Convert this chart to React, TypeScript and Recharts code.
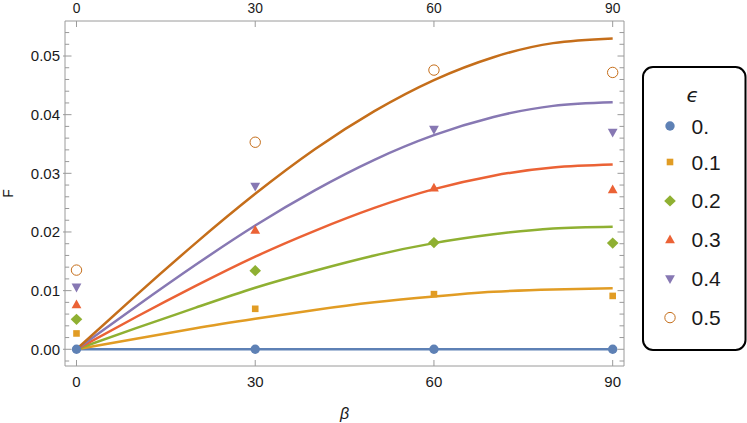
import React from 'react';
import { ComposedChart, Line, Scatter, XAxis, YAxis, Legend } from 'recharts';

// ---- data ----
const epsLabels = ['0.', '0.1', '0.2', '0.3', '0.4', '0.5'];
const seriesColors = ['#5E81B5', '#E19C24', '#8FB032', '#EB6235', '#8778B3', '#C56E1A'];
const markerKinds = ['circle', 'square', 'diamond', 'triangle', 'down', 'open'];

// fitted curves (every 10 degrees)
const curveBeta = [0, 10, 20, 30, 40, 50, 60, 70, 80, 90];
const curveEps00 = [0, 0, 0, 0, 0, 0, 0, 0, 0, 0];
const curveEps01 = [0, 0.0018, 0.0036, 0.0052, 0.0067, 0.008, 0.009, 0.0098, 0.0102, 0.0104];
const curveEps02 = [0, 0.0036, 0.0071, 0.0105, 0.0134, 0.016, 0.0181, 0.0196, 0.0206, 0.0209];
const curveEps03 = [0, 0.0055, 0.0108, 0.0158, 0.0202, 0.0241, 0.0273, 0.0296, 0.031, 0.0315];
const curveEps04 = [0, 0.0073, 0.0144, 0.0211, 0.0271, 0.0323, 0.0365, 0.0396, 0.0415, 0.0421];
const curveEps05 = [0, 0.0092, 0.0181, 0.0265, 0.0341, 0.0406, 0.0459, 0.0498, 0.0522, 0.053];

// measured points
const pointBeta = [0, 30, 60, 90];
const pointsEps00 = [0, 0, 0, 0];
const pointsEps01 = [0.0027, 0.0069, 0.0094, 0.0091];
const pointsEps02 = [0.0051, 0.0134, 0.0182, 0.0181];
const pointsEps03 = [0.0076, 0.0203, 0.0275, 0.0272];
const pointsEps04 = [0.0106, 0.0278, 0.0375, 0.037];
const pointsEps05 = [0.0135, 0.0353, 0.0476, 0.0472];

// axes
const xTicks = [0, 30, 60, 90];
const xTickLabels = ['0', '30', '60', '90'];
const yMajorTicks = [0, 0.01, 0.02, 0.03, 0.04, 0.05];
const yMajorLabels = ['0.00', '0.01', '0.02', '0.03', '0.04', '0.05'];
const yMinorTicks = [-0.002, 0.002, 0.004, 0.006, 0.008, 0.012, 0.014, 0.016, 0.018, 0.022, 0.024, 0.026, 0.028, 0.032, 0.034, 0.036, 0.038, 0.042, 0.044, 0.046, 0.048, 0.052, 0.054];
const xDomain = [-1.93, 91.9];
const yDomain = [-0.00285, 0.05597];

const curves = [curveEps00, curveEps01, curveEps02, curveEps03, curveEps04, curveEps05];
const points = [pointsEps00, pointsEps01, pointsEps02, pointsEps03, pointsEps04, pointsEps05];

const curveData = curves.map((c) => curveBeta.map((b, i) => ({ beta: b, F: c[i] })));
const pointData = points.map((p) => pointBeta.map((b, i) => ({ beta: b, F: p[i] })));
const yTicks = [...yMajorTicks, ...yMinorTicks].sort((a, b) => a - b);

// ---- styles ----
const FRAME = '#9a9a9a';
const TEXT = '#1a1a1a';
const FONT = '"Liberation Sans", Arial, Helvetica, sans-serif';

function Marker({ kind, cx, cy, color }: { kind: string; cx: number; cy: number; color: string }) {
  switch (kind) {
    case 'circle':
      return <circle cx={cx} cy={cy} r={4.7} fill={color} />;
    case 'square':
      return <rect x={cx - 3.3} y={cy - 3.3} width={6.6} height={6.6} fill={color} />;
    case 'diamond':
      return <polygon points={`${cx},${cy - 5.6} ${cx + 5.8},${cy} ${cx},${cy + 5.6} ${cx - 5.8},${cy}`} fill={color} />;
    case 'triangle':
      return <polygon points={`${cx},${cy - 5.3} ${cx + 4.9},${cy + 3.5} ${cx - 4.9},${cy + 3.5}`} fill={color} />;
    case 'down':
      return <polygon points={`${cx - 4.9},${cy - 3.5} ${cx + 4.9},${cy - 3.5} ${cx},${cy + 5.3}`} fill={color} />;
    default:
      return <circle cx={cx} cy={cy} r={5.2} fill="none" stroke={color} strokeWidth={1} />;
  }
}

const LeftTick = (props: any) => {
  const { x, y, payload } = props;
  const idx = yMajorTicks.indexOf(payload.value);
  const major = idx >= 0;
  return (
    <g>
      <line x1={major ? x - 2 : x} x2={x + (major ? 6.5 : 4.2)} y1={y} y2={y} stroke={FRAME} strokeWidth={1} />
      {major && (
        <text x={x - 5} y={y + 5.4} textAnchor="end" fontSize={15} fontFamily={FONT} fill={TEXT}>
          {yMajorLabels[idx]}
        </text>
      )}
    </g>
  );
};

const RightTick = (props: any) => {
  const { x, y, payload } = props;
  const major = yMajorTicks.indexOf(payload.value) >= 0;
  return <line x1={x} x2={x - (major ? 6.5 : 4.5)} y1={y} y2={y} stroke={FRAME} strokeWidth={1} />;
};

const BottomTick = (props: any) => {
  const { x, y, payload } = props;
  const idx = xTicks.indexOf(payload.value);
  return (
    <g>
      <line x1={x} x2={x} y1={y} y2={y - 6} stroke={FRAME} strokeWidth={1} />
      <text x={x} y={y + 21.3} textAnchor="middle" fontSize={15} fontFamily={FONT} fill={TEXT}>
        {xTickLabels[idx]}
      </text>
    </g>
  );
};

const TopTick = (props: any) => {
  const { x, y, payload } = props;
  const idx = xTicks.indexOf(payload.value);
  return (
    <g>
      <line x1={x} x2={x} y1={y} y2={y + 6} stroke={FRAME} strokeWidth={1} />
      <text x={x} y={y - 8.3} textAnchor="middle" fontSize={13.8} fontFamily={FONT} fill={TEXT}>
        {xTickLabels[idx]}
      </text>
    </g>
  );
};

const YLabel = (props: any) => {
  const vb = props.viewBox || { x: 0, y: 21, width: 65, height: 345 };
  const cx = vb.x + 7.5;
  const cy = vb.y + vb.height / 2;
  return (
    <text transform={`translate(${cx},${cy}) rotate(-90)`} textAnchor="middle" dominantBaseline="central" fontSize={14} fontFamily={FONT} fill={TEXT}>
      F
    </text>
  );
};

const XLabel = (props: any) => {
  const vb = props.viewBox || { x: 65, y: 366, width: 559, height: 57 };
  return (
    <text x={vb.x + vb.width / 2} y={vb.y + 47} textAnchor="middle" dominantBaseline="central" fontSize={16} fontStyle="italic" fontFamily={FONT} fill={TEXT}>
      β
    </text>
  );
};

const rowCenters = [60, 96, 134.9, 173.8, 212.7, 251.6];

const LegendBox = () => (
  <svg width={106} height={286} style={{ display: 'block' }}>
    <rect x={1} y={1} width={102.5} height={283} rx={10} ry={10} fill="#fff" stroke="#000" strokeWidth={2} />
    <text x={50.7} y={29} textAnchor="middle" dominantBaseline="central" fontSize={20} fontStyle="italic" fontFamily='"DejaVu Sans", sans-serif' fill={TEXT}>
      ϵ
    </text>
    {epsLabels.map((lab, i) => (
      <g key={lab}>
        <Marker kind={markerKinds[i]} cx={28} cy={rowCenters[i]} color={seriesColors[i]} />
        <text x={49.5} y={rowCenters[i] + 7.5} fontSize={21} fontFamily={FONT} fill={TEXT}>
          {lab}
        </text>
      </g>
    ))}
  </svg>
);

export default function App() {
  return (
    <div style={{ position: 'absolute', left: 0, top: 0, width: 747, height: 423, background: '#fff' }}>
      <ComposedChart width={747} height={423} margin={{ top: 0, right: 100, bottom: 0, left: 0 }}>
        <XAxis
          xAxisId={0}
          dataKey="beta"
          type="number"
          domain={xDomain}
          allowDataOverflow
          ticks={xTicks}
          interval={0}
          orientation="bottom"
          height={57}
          tickSize={0}
          tickMargin={0}
          tickLine={false}
          tick={BottomTick}
          axisLine={{ stroke: FRAME, strokeWidth: 1 }}
          label={{ content: XLabel }}
        />
        <XAxis
          xAxisId="top"
          dataKey="beta"
          type="number"
          domain={xDomain}
          allowDataOverflow
          ticks={xTicks}
          interval={0}
          orientation="top"
          height={21}
          tickSize={0}
          tickMargin={0}
          tickLine={false}
          tick={TopTick}
          axisLine={{ stroke: FRAME, strokeWidth: 1 }}
        />
        <YAxis
          yAxisId={0}
          type="number"
          domain={yDomain}
          allowDataOverflow
          ticks={yTicks}
          interval={0}
          orientation="left"
          width={65}
          tickSize={0}
          tickMargin={0}
          tickLine={false}
          tick={LeftTick}
          axisLine={{ stroke: FRAME, strokeWidth: 1 }}
          label={{ content: YLabel }}
        />
        <YAxis
          yAxisId="right"
          type="number"
          domain={yDomain}
          allowDataOverflow
          ticks={yTicks}
          interval={0}
          orientation="right"
          width={23}
          tickSize={0}
          tickMargin={0}
          tickLine={false}
          tick={RightTick}
          axisLine={{ stroke: FRAME, strokeWidth: 1 }}
        />
        {curveData.map((d, i) => (
          <Line
            key={`line-${i}`}
            data={d}
            dataKey="F"
            type="natural"
            stroke={seriesColors[i]}
            strokeWidth={2.5}
            dot={false}
            activeDot={false}
            legendType="none"
            isAnimationActive={false}
          />
        ))}
        {pointData.map((d, i) => (
          <Scatter
            key={`pts-${i}`}
            name={epsLabels[i]}
            data={d}
            dataKey="F"
            fill={seriesColors[i]}
            isAnimationActive={false}
            shape={(p: any) => <Marker kind={markerKinds[i]} cx={p.cx} cy={p.cy} color={seriesColors[i]} />}
          />
        ))}
        <Legend
          layout="vertical"
          align="center"
          verticalAlign="middle"
          wrapperStyle={{ left: 642, top: 66, width: 106, height: 286 }}
          content={LegendBox}
        />
      </ComposedChart>
    </div>
  );
}
